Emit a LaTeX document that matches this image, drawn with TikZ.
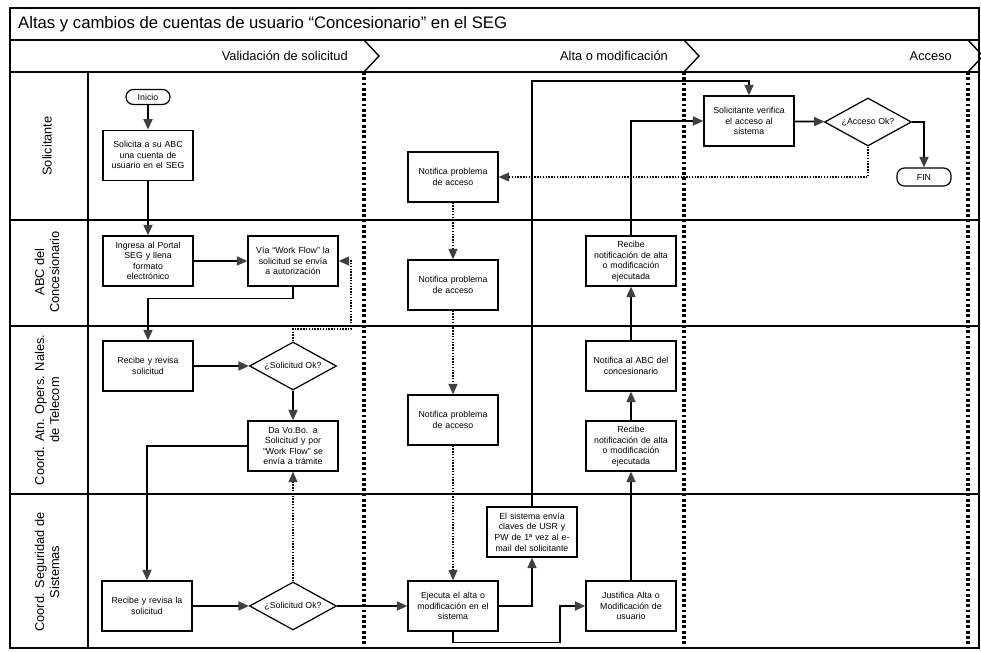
\documentclass[tikz,border=0pt]{standalone}
\usepackage{fontspec}
\setmainfont{Liberation Sans}
\usetikzlibrary{shapes.geometric,arrows.meta,positioning,calc}

\begin{document}
\begin{tikzpicture}[
  x=0.02cm, y=-0.02cm,
  node distance=4mm and 3mm,
  proc/.style={draw, line width=0.7pt, minimum width=1.8cm, minimum height=1cm,
              inner sep=0.5pt, text width=1.76cm, align=center,
              font=\fontsize{5}{6}\selectfont},
  dec/.style={draw, diamond, aspect=1.8, line width=0.7pt, inner sep=0pt,
              minimum width=1.74cm, minimum height=0.96cm,
              font=\fontsize{5}{6}\selectfont},
  term/.style={draw, rounded corners=0.15cm, line width=0.7pt, minimum width=0.88cm,
              minimum height=0.3cm, inner sep=0pt, font=\fontsize{5}{6}\selectfont},
  lane/.style={line width=0.8pt},
  lanelbl/.style={rotate=90, align=center, font=\fontsize{7.3}{8.6}\selectfont},
  phase/.style={anchor=east, font=\fontsize{7.3}{8.6}\selectfont},
  phasesep/.style={line width=1.8pt, dash pattern=on 1.6pt off 1.4pt},
  ar/.style={-{Triangle[length=2.1mm, width=1.8mm, color=black!75]}, line width=1pt},
  dar/.style={-{Triangle[length=2.1mm, width=1.8mm, color=black!75]}, line width=0.6pt,
              dash pattern=on 0.8pt off 0.8pt}
]
  \useasboundingbox (0,0) rectangle (981,652);

  % frame, lanes and phases
  \draw[lane] (10,8) rectangle (979,648);
  \draw[lane] (10,40) -- (979,40);
  \draw[lane] (10,72) -- (979,72);
  \foreach \y in {220,326,494}
    \draw[lane] (10,\y) -- (979,\y);
  \draw[lane] (88,72) -- (88,648);
  \foreach \x in {364,684,968} {
    \draw[lane] (\x,40) -- (\x+15,56) -- (\x,72);
    \draw[phasesep] (\x,72) -- (\x,648);
  }
  \node[anchor=west, font=\fontsize{9.5}{11}\selectfont] (title) at (12,24)
    {Altas y cambios de cuentas de usuario “Concesionario” en el SEG};
  \node[phase] (ph1) at (354,56) {Validación de solicitud};
  \node[phase] (ph2) at (674,56) {Alta o modificación};
  \node[phase] (ph3) at (958,56) {Acceso};
  \node[lanelbl] (l1) at (47,146) {Solicitante};
  \node[lanelbl] (l2) at (47,272) {ABC del\\Concesionario};
  \node[lanelbl] (l3) at (47,410) {Coord. Atn. Opers. Nales.\\de Telecom};
  \node[lanelbl] (l4) at (47,572) {Coord. Seguridad de\\Sistemas};

  % Solicitante
  \node[term] (inicio) at (148,97) {Inicio};
  \node[proc, below=0.49cm of inicio] (solicita) {Solicita a su ABC\\una cuenta de\\usuario en el SEG};
  \node[proc] (notif1) at (453,177) {Notifica problema\\de acceso};
  \node[proc] (verifica) at (749,121) {Solicitante verifica\\el acceso al\\sistema};
  \node[dec] (accok) at (868,122) {¿Acceso Ok?};
  \node[term, minimum width=1.08cm, minimum height=0.36cm] (fin) at (924,177) {FIN};

  % ABC del Concesionario
  \node[proc] (ingresa) at (148,261) {Ingresa al Portal\\SEG y llena\\formato\\electrónico};
  \node[proc] (via) at (293,261) {Vía “Work Flow” la\\solicitud se envía\\a autorización};
  \node[proc] (notif2) at (453,285) {Notifica problema\\de acceso};
  \node[proc] (recnot1) at (631,261) {Recibe\\notificación de alta\\o modificación\\ejecutada};

  % Coord. Atn. Opers.
  \node[proc] (recibe1) at (148,366) {Recibe y revisa\\solicitud};
  \node[dec] (solok1) at (293,366) {¿Solicitud Ok?};
  \node[proc] (vobo) at (293,446) {Da Vo.Bo. a\\Solicitud y por\\“Work Flow” se\\envía a trámite};
  \node[proc] (notif3) at (453,420) {Notifica problema\\de acceso};
  \node[proc] (notabc) at (631,366) {Notifica al ABC del\\concesionario};
  \node[proc] (recnot2) at (631,446) {Recibe\\notificación de alta\\o modificación\\ejecutada};

  % Coord. Seguridad
  \node[proc] (recibe2) at (147,606) {Recibe y revisa la\\solicitud};
  \node[dec] (solok2) at (293,606) {¿Solicitud Ok?};
  \node[proc] (ejecuta) at (453,606) {Ejecuta el alta o\\modificación en el\\sistema};
  \node[proc] (envia) at (532,532) {El sistema envía\\claves de USR y\\PW de 1ª vez al e-\\mail del solicitante};
  \node[proc] (justif) at (631,606) {Justifica Alta o\\Modificación de\\usuario};

  \coordinate (fb1) at (351,329);
  \coordinate (up) at (532,81);
  \coordinate (kink) at (560,606);

  \draw[ar] (inicio) -- (solicita);
  \draw[ar] (solicita) -- (ingresa);
  \draw[ar] (ingresa) -- (via);
  \draw[ar] (via.south) -- ++(0,12) -| (recibe1.north);
  \draw[ar] (recibe1) -- (solok1);
  \draw[dar] (solok1.north) |- (fb1) |- (via.east);
  \draw[ar] (solok1) -- (vobo);
  \draw[ar] (vobo.west) -| (recibe2.north);
  \draw[ar] (recibe2) -- (solok2);
  \draw[dar] (solok2) -- (vobo);
  \draw[ar] (solok2) -- (ejecuta);
  \draw[dar] (notif1) -- (notif2);
  \draw[dar] (notif2) -- (notif3);
  \draw[dar] (notif3) -- (ejecuta);
  \draw[ar] (ejecuta.east) -| (envia.south);
  \draw[ar] (envia.north) -- (up) -| (verifica.north);
  \draw[ar] (ejecuta.south) -- ++(0,11) -| (kink) -- (justif.west);
  \draw[ar] (justif) -- (recnot2);
  \draw[ar] (recnot2) -- (notabc);
  \draw[ar] (notabc) -- (recnot1);
  \draw[ar] (recnot1.north) |- (verifica.west);
  \draw[ar] (verifica) -- (accok);
  \draw[ar] (accok.east) -| (fin.north);
  \draw[dar] (accok.south) |- (notif1.east);
\end{tikzpicture}
\end{document}
